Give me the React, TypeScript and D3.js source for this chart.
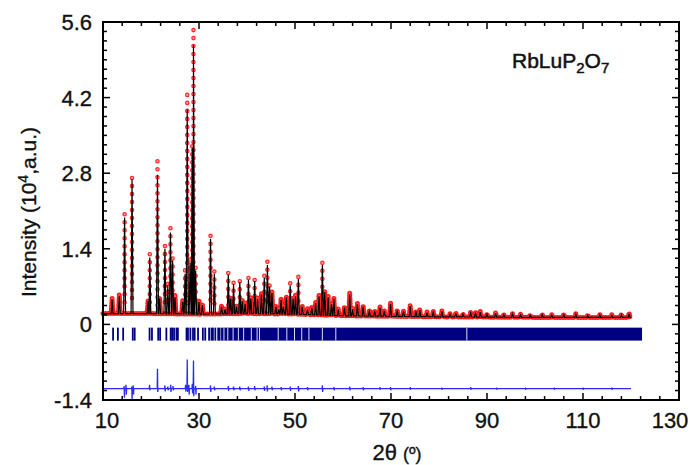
import React from "react";
import * as d3 from "d3";

// peak positions (2theta), observed and calculated heights (10^4 counts)
const peakPos = [11.9, 13.4, 14.5, 16.05, 19.4, 19.75, 21.35, 21.8, 22.9, 23.5, 24.05, 24.5, 25.0, 26.6, 27.1, 27.55, 28.15, 28.6, 28.85, 29.3, 30.0, 30.7, 32.4, 33.2, 34.7, 35.4, 36.1, 36.6, 37.2, 37.8, 38.5, 39.0, 39.6, 40.3, 40.8, 41.6, 42.2, 43.0, 43.6, 44.25, 44.7, 45.2, 46.0, 46.6, 47.1, 47.6, 48.2, 49.0, 49.6, 50.1, 50.7, 51.5, 52.6, 53.5, 54.3, 55.0, 55.7, 56.2, 56.9, 57.6, 58.1, 59.0, 60.3, 61.4, 62.0, 63.0, 64.2, 65.5, 66.6, 67.7, 68.6, 69.9, 71.3, 72.6, 74.0, 75.2, 76.0, 77.5, 78.8, 80.6, 82.3, 83.5, 85.0, 86.6, 87.6, 88.6, 90.0, 91.8, 93.5, 95.3, 97.0, 99.0, 101.5, 103.5, 106.0, 108.5, 111.0, 113.5, 116.0, 118.0, 119.6];
const peakObs = [0.48, 0.56, 2.04, 2.71, 0.45, 1.3, 3.02, 0.5, 1.45, 0.75, 1.78, 1.22, 0.55, 0.45, 1.0, 4.25, 1.2, 3.3, 5.45, 1.05, 0.45, 0.38, 1.64, 0.98, 0.35, 0.3, 0.95, 0.5, 0.77, 0.35, 0.8, 0.45, 0.4, 0.86, 0.5, 0.82, 0.5, 0.58, 0.9, 1.16, 0.72, 0.6, 0.35, 0.3, 0.48, 0.35, 0.52, 0.76, 0.5, 0.55, 0.88, 0.35, 0.3, 0.33, 0.42, 0.55, 1.14, 0.62, 0.53, 0.4, 0.5, 0.3, 0.33, 0.58, 0.3, 0.39, 0.35, 0.27, 0.26, 0.33, 0.26, 0.4, 0.27, 0.25, 0.36, 0.25, 0.28, 0.23, 0.25, 0.25, 0.2, 0.22, 0.2, 0.24, 0.23, 0.24, 0.2, 0.22, 0.19, 0.2, 0.19, 0.18, 0.19, 0.18, 0.19, 0.2, 0.18, 0.19, 0.18, 0.19, 0.21];
const peakCalc = [0.46, 0.53, 1.98, 2.69, 0.43, 1.24, 2.77, 0.48, 1.4, 0.72, 1.7, 1.18, 0.5, 0.42, 0.94, 3.98, 1.15, 3.26, 5.18, 1.0, 0.42, 0.36, 1.58, 0.94, 0.33, 0.28, 0.92, 0.48, 0.75, 0.33, 0.78, 0.43, 0.38, 0.82, 0.48, 0.8, 0.47, 0.56, 0.86, 1.1, 0.7, 0.58, 0.33, 0.28, 0.46, 0.33, 0.5, 0.72, 0.48, 0.52, 0.84, 0.33, 0.28, 0.31, 0.4, 0.52, 1.1, 0.6, 0.5, 0.38, 0.48, 0.28, 0.31, 0.56, 0.28, 0.37, 0.33, 0.26, 0.25, 0.31, 0.25, 0.38, 0.26, 0.24, 0.34, 0.24, 0.27, 0.22, 0.24, 0.24, 0.19, 0.21, 0.19, 0.23, 0.22, 0.23, 0.19, 0.21, 0.18, 0.19, 0.18, 0.17, 0.18, 0.17, 0.18, 0.19, 0.17, 0.18, 0.17, 0.18, 0.2];

// background level
const bgAngle = [10, 20, 30, 40, 50, 60, 70, 80, 100, 120];
const bgLevel = [0.2, 0.2, 0.19, 0.2, 0.19, 0.16, 0.15, 0.14, 0.13, 0.13];

// Bragg reflections: single ticks, then the dense band with its white gaps
const braggPos = [12.1, 13.1, 14.2, 16.2, 16.6, 19.7, 20.2, 21.5, 21.9, 23.2, 24.1, 24.4, 24.8, 25.3, 25.6, 27.4, 27.7, 28.2, 28.75, 29.1, 29.8, 30.8, 31.3, 32.1, 32.6, 32.9, 33.4, 34.0, 34.3];
const braggBand = [34.6, 122.3];
const braggGaps = [35.2, 36.0, 37.1, 38.2, 39.3, 40.9, 42.1, 42.6, 46.5, 48.3, 49.9, 51.4, 52.9, 55.7, 58.5, 85.8];

// difference curve (obs - calc) spikes
const diffBase = -1.19;
const diffPos = [14.4, 14.8, 16.0, 16.3, 19.7, 21.35, 22.9, 23.5, 24.1, 24.6, 27.2, 27.55, 27.9, 28.6, 28.85, 29.3, 32.4, 33.2, 36.1, 37.2, 38.5, 40.3, 41.6, 43.6, 44.2, 45.2, 47.1, 49.0, 50.7, 52.6, 55.7, 58.1, 61.4, 64.2, 67.7, 69.9, 74.0, 80.6, 86.6, 92.0, 98.0, 104.0, 110.0, 116.0];
const diffHi = [-1.14, -1.12, -1.15, -1.13, -1.12, -0.82, -1.13, -1.15, -1.12, -1.14, -1.12, -0.65, -1.12, -1.1, -0.67, -1.14, -1.13, -1.15, -1.14, -1.15, -1.15, -1.15, -1.14, -1.15, -1.13, -1.15, -1.16, -1.15, -1.14, -1.16, -1.13, -1.16, -1.15, -1.16, -1.16, -1.16, -1.16, -1.17, -1.16, -1.17, -1.17, -1.17, -1.17, -1.17];
const diffLo = [-1.36, -1.3, -1.39, -1.3, -1.22, -1.25, -1.24, -1.22, -1.25, -1.22, -1.24, -1.25, -1.3, -1.28, -1.33, -1.3, -1.25, -1.22, -1.23, -1.22, -1.22, -1.23, -1.22, -1.23, -1.24, -1.22, -1.22, -1.23, -1.24, -1.22, -1.25, -1.22, -1.22, -1.22, -1.21, -1.22, -1.21, -1.21, -1.21, -1.21, -1.21, -1.21, -1.21, -1.21];

const xTicks = [10, 30, 50, 70, 90, 110, 130];
const yTicks = [-1.4, 0, 1.4, 2.8, 4.2, 5.6];

const font = "'Liberation Sans', Arial, Helvetica, sans-serif";

export default function App() {
  const left = 103, right = 679, top = 22, bottom = 400;
  const x = d3.scaleLinear().domain([10, 130]).range([left, right]);
  const y = d3.scaleLinear().domain([-1.4, 5.6]).range([bottom, top]);
  const bg = d3.scaleLinear().domain(bgAngle).range(bgLevel).clamp(true);

  const W = 0.2; // half base width of a peak, in degrees
  const line = d3.line<[number, number]>().x((d) => x(d[0])).y((d) => y(d[1]));

  // profile through background and peak triangles
  function profile(heights: number[], keep: (i: number) => boolean) {
    const pts: [number, number][] = [];
    peakPos.forEach((p, i) => {
      if (!keep(i)) return;
      pts.push([p - W, bg(p - W)], [p, heights[i]], [p + W, bg(p + W)]);
    });
    bgAngle.forEach((a) => {
      const inside = peakPos.some((p, i) => keep(i) && Math.abs(a - p) < W);
      if (!inside && a <= 120) pts.push([a, bg(a)]);
    });
    pts.sort((a, b) => a[0] - b[0]);
    return line(pts) || "";
  }

  const tall = (i: number) => peakObs[i] >= 0.7;
  const bandPath = profile(peakObs, (i) => !tall(i));
  const calcPath = profile(peakCalc, () => true);

  const diffPts: [number, number][] = [[10, diffBase]];
  diffPos.forEach((p, i) => {
    diffPts.push([p - 0.06, diffBase], [p, diffHi[i]], [p + 0.06, diffLo[i]], [p + 0.12, diffBase]);
  });
  diffPts.push([120, diffBase]);
  const diffPath = line(diffPts) || "";

  const xMinor = d3.range(10, 130.001, 4);
  const yMinor = d3.range(0, 41).map((i) => -1.4 + i * 0.175);

  const bTop = y(-0.06), bBot = y(-0.3);
  const txt = { fill: "#111", stroke: "#111", strokeWidth: 0.35 };

  return (
    <svg width={691} height={465} style={{ position: "absolute", left: 0, top: 0, background: "#fff" }} fontFamily={font}>
      {/* observed points: dense band */}
      <path d={bandPath} fill="none" stroke="#ff1a1a" strokeWidth={5} strokeDasharray="0 2.6" strokeLinecap="round" />
      <path d={bandPath} fill="none" stroke="#ff5c5c" strokeWidth={2} strokeDasharray="0 2.6" strokeLinecap="round" />
      {/* observed points on tall peaks */}
      {peakPos.map((p, i) =>
        tall(i) ? (
          <g key={"o" + i}>
            <line x1={x(p)} x2={x(p)} y1={y(peakObs[i])} y2={y(bg(p) + 0.15)} stroke="#ff2a2a" strokeWidth={4.6} strokeDasharray="0 8" strokeLinecap="round" />
            <line x1={x(p)} x2={x(p)} y1={y(peakObs[i])} y2={y(bg(p) + 0.15)} stroke="#ffa0a0" strokeWidth={2.2} strokeDasharray="0 8" strokeLinecap="round" />
          </g>
        ) : null
      )}
      {/* calculated profile */}
      <path d={calcPath} fill="none" stroke="#000" strokeWidth={1.2} />

      {/* Bragg positions */}
      {braggPos.map((p, i) => (
        <rect key={"b" + i} x={x(p) - 0.9} y={bTop} width={1.8} height={bBot - bTop} fill="#000080" />
      ))}
      <rect x={x(braggBand[0])} y={bTop} width={x(braggBand[1]) - x(braggBand[0])} height={bBot - bTop} fill="#000080" />
      {braggGaps.map((g, i) => (
        <line key={"g" + i} x1={x(g)} x2={x(g)} y1={bTop} y2={bBot} stroke="#dcdcf0" strokeWidth={1} />
      ))}

      {/* difference */}
      <path d={diffPath} fill="none" stroke="#2a2aff" strokeWidth={1.3} />

      {/* frame */}
      <rect x={left} y={top} width={right - left} height={bottom - top} fill="none" stroke="#000" strokeWidth={2} />
      {xMinor.map((v, i) => {
        const major = xTicks.includes(Math.round(v));
        const len = major ? 7 : 4;
        return (
          <g key={"xt" + i}>
            <line x1={x(v)} x2={x(v)} y1={bottom} y2={bottom - len} stroke="#000" strokeWidth={1.5} />
            <line x1={x(v)} x2={x(v)} y1={top} y2={top + len} stroke="#000" strokeWidth={1.5} />
          </g>
        );
      })}
      {yMinor.map((v, i) => {
        const major = i % 8 === 0;
        const len = major ? 7 : 4;
        return (
          <g key={"yt" + i}>
            <line x1={left} x2={left + len} y1={y(v)} y2={y(v)} stroke="#000" strokeWidth={1.5} />
            <line x1={right} x2={right - len} y1={y(v)} y2={y(v)} stroke="#000" strokeWidth={1.5} />
          </g>
        );
      })}

      {/* tick labels */}
      {yTicks.map((v) => (
        <text key={"yl" + v} x={92} y={y(v)} dy="0.36em" textAnchor="end" fontSize={22} {...txt}>
          {v === 0 ? "0" : v.toFixed(1)}
        </text>
      ))}
      {xTicks.map((v) => (
        <text key={"xl" + v} x={x(v) + (v === 10 ? 4 : v === 130 ? -9 : 0)} y={428} textAnchor="middle" fontSize={22} {...txt}>
          {v}
        </text>
      ))}

      {/* axis titles */}
      <text transform="translate(36,212) rotate(-90)" textAnchor="middle" fontSize={21} {...txt}>
        Intensity (10<tspan dy={-8} fontSize={14}>4</tspan>
        <tspan dy={8}>,a.u.)</tspan>
      </text>
      <text x={397} y={460} textAnchor="middle" fontSize={22} {...txt}>
        2θ <tspan fontSize={18}>(º)</tspan>
      </text>

      {/* compound label */}
      <text x={512} y={68} fontSize={21} {...txt} strokeWidth={0.5}>
        RbLuP<tspan fontSize={15} dy={5}>2</tspan>
        <tspan dy={-5}>O</tspan>
        <tspan fontSize={15} dy={5}>7</tspan>
      </text>
    </svg>
  );
}
